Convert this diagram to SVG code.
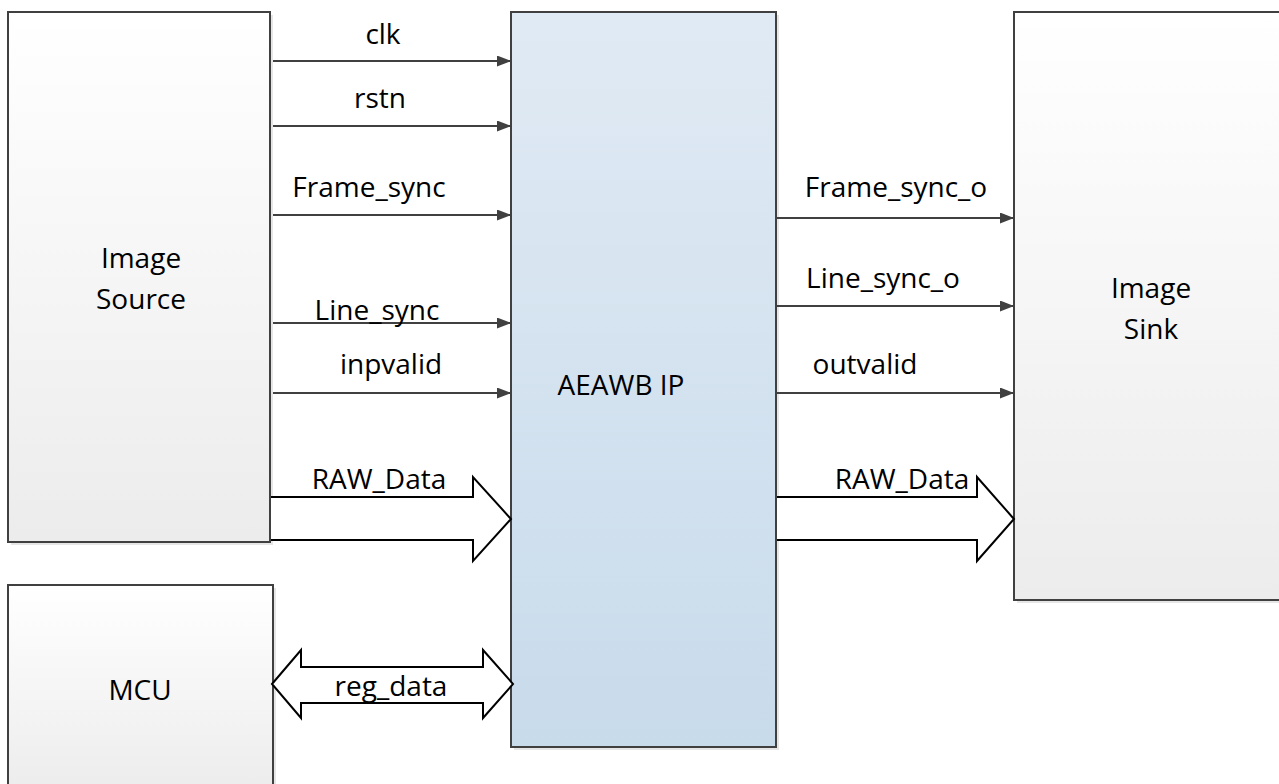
<svg xmlns="http://www.w3.org/2000/svg" width="1279" height="784" viewBox="0 0 1279 784">
<style>
.box{stroke:#404040;stroke-width:2}
.lbl{font-family:"Open Sans","Liberation Sans",sans-serif;font-size:28px;fill:#000}
.mid{text-anchor:middle}
.sig{stroke:#404040;stroke-width:2;fill:none;marker-end:url(#ah)}
.blk{stroke:#000;stroke-width:2;fill:#fff;stroke-linejoin:miter}
</style>
<defs>
<linearGradient id="grey" x1="0" y1="0" x2="0" y2="1">
<stop offset="0" stop-color="#ffffff"/>
<stop offset="1" stop-color="#ececec"/>
</linearGradient>
<linearGradient id="blue" x1="0" y1="0" x2="0" y2="1">
<stop offset="0" stop-color="#e0eaf4"/>
<stop offset="1" stop-color="#c8dbeb"/>
</linearGradient>
<marker id="ah" viewBox="0 0 14 11" refX="14" refY="5.5" markerWidth="14" markerHeight="11" markerUnits="userSpaceOnUse" orient="auto">
<path d="M0,0 L14,5.5 L0,11 Z" fill="#404040"/>
</marker>
</defs>

<g id="image-source">
<rect x="11" y="15" width="262" height="530" fill="#e6e6e6"/>
<rect class="box" x="8" y="12" width="262" height="530" fill="url(#grey)"/>
<text class="lbl mid" x="141" y="268">Image</text>
<text class="lbl mid" x="141" y="309">Source</text>
</g>

<g id="mcu">
<rect x="11" y="588" width="265" height="200" fill="#e6e6e6"/>
<rect class="box" x="8" y="585" width="265" height="210" fill="url(#grey)"/>
<text class="lbl mid" x="140" y="700">MCU</text>
</g>

<g id="aeawb-ip">
<rect x="514" y="15" width="265" height="735" fill="#e6e6e6"/>
<rect class="box" x="511" y="12" width="265" height="735" fill="url(#blue)"/>
<text class="lbl mid" x="621" y="395">AEAWB  IP</text>
</g>

<g id="image-sink">
<rect x="1017" y="15" width="270" height="588" fill="#e6e6e6"/>
<rect class="box" x="1014" y="12" width="270" height="588" fill="url(#grey)"/>
<text class="lbl mid" x="1151" y="298">Image</text>
<text class="lbl mid" x="1151" y="339">Sink</text>
</g>

<g id="connectors">
<line class="sig" x1="273" y1="61" x2="511" y2="61"/>
<line class="sig" x1="273" y1="126" x2="511" y2="126"/>
<line class="sig" x1="273" y1="215" x2="511" y2="215"/>
<line class="sig" x1="273" y1="323" x2="511" y2="323"/>
<line class="sig" x1="273" y1="393" x2="511" y2="393"/>
<line class="sig" x1="776" y1="218" x2="1014" y2="218"/>
<line class="sig" x1="776" y1="306" x2="1014" y2="306"/>
<line class="sig" x1="776" y1="393" x2="1014" y2="393"/>
<path class="blk" d="M271,497 L473,497 L473,477 L511,519 L473,561 L473,540 L271,540"/>
<path class="blk" d="M777,497 L977,497 L977,477 L1014,519 L977,561 L977,540 L777,540"/>
<path class="blk" d="M272,684 L301,650 L301,667 L483,667 L483,650 L513,684 L483,718 L483,703 L301,703 L301,718 Z"/>
</g>

<g id="labels">
<text class="lbl mid" x="383" y="44">clk</text>
<text class="lbl mid" x="380" y="108">rstn</text>
<text class="lbl mid" x="369" y="197">Frame_sync</text>
<text class="lbl mid" x="377" y="320">Line_sync</text>
<text class="lbl mid" x="391" y="374">inpvalid</text>
<text class="lbl mid" x="379" y="489">RAW_Data</text>
<text class="lbl mid" x="902" y="489">RAW_Data</text>
<text class="lbl mid" x="391" y="696">reg_data</text>
<text class="lbl mid" x="896" y="197">Frame_sync_o</text>
<text class="lbl mid" x="883" y="288">Line_sync_o</text>
<text class="lbl mid" x="865" y="374">outvalid</text>
</g>
</svg>
